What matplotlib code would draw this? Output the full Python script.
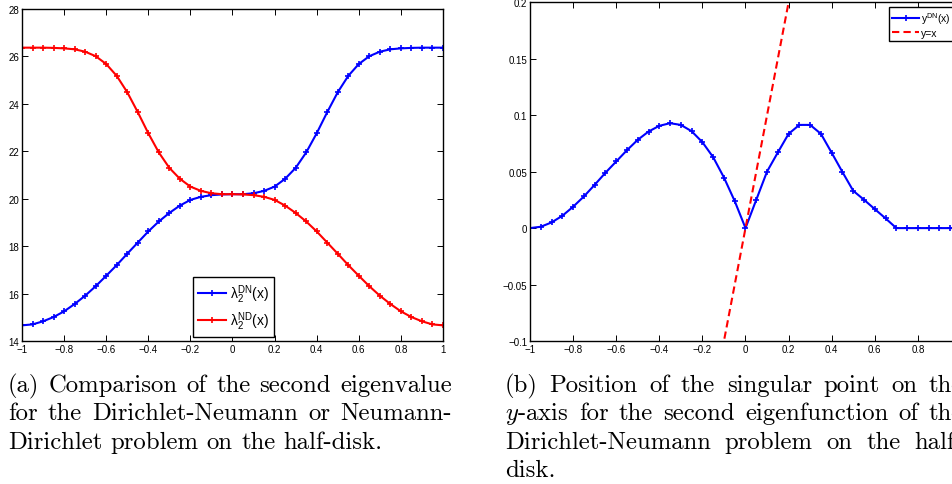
import numpy as np
import matplotlib.pyplot as plt

# sample grid (same for both panels)
x_pts = [-1.0, -0.95, -0.9, -0.85, -0.8, -0.75, -0.7, -0.65, -0.6, -0.55,
         -0.5, -0.45, -0.4, -0.35, -0.3, -0.25, -0.2, -0.15, -0.1, -0.05,
         0.0, 0.05, 0.1, 0.15, 0.2, 0.25, 0.3, 0.35, 0.4, 0.45,
         0.5, 0.55, 0.6, 0.65, 0.7, 0.75, 0.8, 0.85, 0.9, 0.95, 1.0]

# (a) second eigenvalue
lam_dn = [14.66, 14.70, 14.83, 15.01, 15.25, 15.56, 15.91, 16.31, 16.75, 17.20,
          17.68, 18.15, 18.62, 19.04, 19.40, 19.71, 19.95, 20.08, 20.15, 20.18,
          20.19, 20.19, 20.23, 20.33, 20.51, 20.84, 21.30, 21.95, 22.76, 23.65,
          24.49, 25.18, 25.68, 26.01, 26.20, 26.30, 26.34, 26.36, 26.37, 26.37, 26.37]
lam_nd = [26.37, 26.37, 26.37, 26.36, 26.34, 26.30, 26.20, 26.01, 25.68, 25.18,
          24.49, 23.65, 22.76, 21.95, 21.30, 20.84, 20.51, 20.33, 20.23, 20.19,
          20.19, 20.18, 20.15, 20.08, 19.95, 19.71, 19.40, 19.04, 18.62, 18.15,
          17.68, 17.20, 16.75, 16.31, 15.91, 15.56, 15.25, 15.01, 14.83, 14.70, 14.66]

# (b) position of the singular point
y_dn = [0.0, 0.0012, 0.0050, 0.0109, 0.0189, 0.0280, 0.0383, 0.0490, 0.0590, 0.0690,
        0.0782, 0.0855, 0.0906, 0.0929, 0.0914, 0.0858, 0.0761, 0.0628, 0.0448, 0.0239,
        0.0, 0.0251, 0.0501, 0.0670, 0.0835, 0.0914, 0.0914, 0.0835, 0.0667, 0.0496,
        0.0330, 0.0251, 0.0168, 0.0086, 0.0, 0.0, 0.0, 0.0, 0.0, 0.0, 0.0]
diag_x = [-1.0, 1.0]
diag_y = [-1.0, 1.0]

xticks = [-1, -0.8, -0.6, -0.4, -0.2, 0, 0.2, 0.4, 0.6, 0.8, 1]
yticks_a = [14, 16, 18, 20, 22, 24, 26, 28]
yticks_b = [-0.1, -0.05, 0, 0.05, 0.1, 0.15, 0.2]

cap_a = ["(a) Comparison of the second eigenvalue",
         "for the Dirichlet-Neumann or Neumann-",
         "Dirichlet problem on the half-disk."]
cap_b = ["(b) Position of the singular point on the",
         "$y$-axis for the second eigenfunction of the",
         "Dirichlet-Neumann problem on the half-",
         "disk."]

plt.rcParams['font.family'] = ['Liberation Sans', 'DejaVu Sans']
plt.rcParams['mathtext.fontset'] = 'custom'
plt.rcParams['mathtext.rm'] = 'Liberation Sans'
plt.rcParams['mathtext.it'] = 'Liberation Sans:italic'

W, H = 953, 485
fig = plt.figure(figsize=(W / 100, H / 100), dpi=100)


def px_axes(x0, y0, x1, y1):
    return fig.add_axes([x0 / W, (H - y1) / H, (x1 - x0) / W, (y1 - y0) / H])


def fmt(t):
    return ('%g' % t).replace('-', '\u2212')


def matlab_style(ax, yt):
    ax.set_xticks(xticks)
    ax.set_xticklabels([fmt(t) for t in xticks])
    ax.set_yticks(yt)
    ax.set_yticklabels([fmt(t) for t in yt])
    ax.tick_params(direction='in', top=True, right=True, length=4, width=0.7,
                   labelsize=7, pad=2)
    for s in ax.spines.values():
        s.set_linewidth(1.0)


line_kw = dict(lw=1.5, marker='+', ms=5, mew=1.2)

ax1 = px_axes(22, 10, 443, 342)
ax1.plot(x_pts, lam_dn, color='#0000ff', label=r'$\mathrm{\lambda}_2^{\mathrm{DN}}$(x)', **line_kw)
ax1.plot(x_pts, lam_nd, color='#ff0000', label=r'$\mathrm{\lambda}_2^{\mathrm{ND}}$(x)', **line_kw)
ax1.set_xlim(-1, 1)
ax1.set_ylim(14, 28)
matlab_style(ax1, yticks_a)
leg1 = ax1.legend(loc='lower left', bbox_to_anchor=((193 - 22) / 421, 4 / 332),
                  borderaxespad=0, numpoints=1, fontsize=10, fancybox=False,
                  edgecolor='black', framealpha=1, handlelength=2.0,
                  handletextpad=0.3, labelspacing=0.35, borderpad=0.35)
leg1.get_frame().set_linewidth(1.0)

ax2 = px_axes(530, 3.3, 961, 342)
ax2.plot(x_pts, y_dn, color='#0000ff', label=r'y$^{\mathrm{DN}}$(x)', **line_kw)
ax2.plot(diag_x, diag_y, color='#ff0000', ls='--', lw=1.5, dashes=(3.5, 2), label='y=x')
ax2.set_xlim(-1, 1)
ax2.set_ylim(-0.1, 0.2)
matlab_style(ax2, yticks_b)
leg2 = ax2.legend(loc='upper left', bbox_to_anchor=((889 - 530) / 431, (342 - 8) / 338.7),
                  borderaxespad=0, numpoints=1, fontsize=7.5, fancybox=False,
                  edgecolor='black', framealpha=1, handlelength=2.6,
                  handletextpad=0.2, labelspacing=0.2, borderpad=0.3)
leg2.get_frame().set_linewidth(1.0)

# captions, justified like the LaTeX page
renderer = fig.canvas.get_renderer()
cap_fs = 17.8


def caption(lines, left, right, base0, step):
    for i, line in enumerate(lines):
        base = base0 + i * step
        words = line.split(' ')
        texts = [fig.text(0, (H - base) / H, w, fontsize=cap_fs, family='cmr10',
                          math_fontfamily='cm', va='baseline', ha='left')
                 for w in words]
        widths = [t.get_window_extent(renderer).width for t in texts]
        if i < len(lines) - 1 and len(words) > 1:
            gap = (right - left - sum(widths)) / (len(words) - 1)
        else:
            gap = cap_fs * 100 / 72 * 0.333
        x = left
        for t, w in zip(texts, widths):
            t.set_x(x / W)
            x += w + gap


caption(cap_a, 8, 452, 392, 28.5)
caption(cap_b, 505, 963, 392, 28.5)

fig.savefig('out.png', dpi=100)
